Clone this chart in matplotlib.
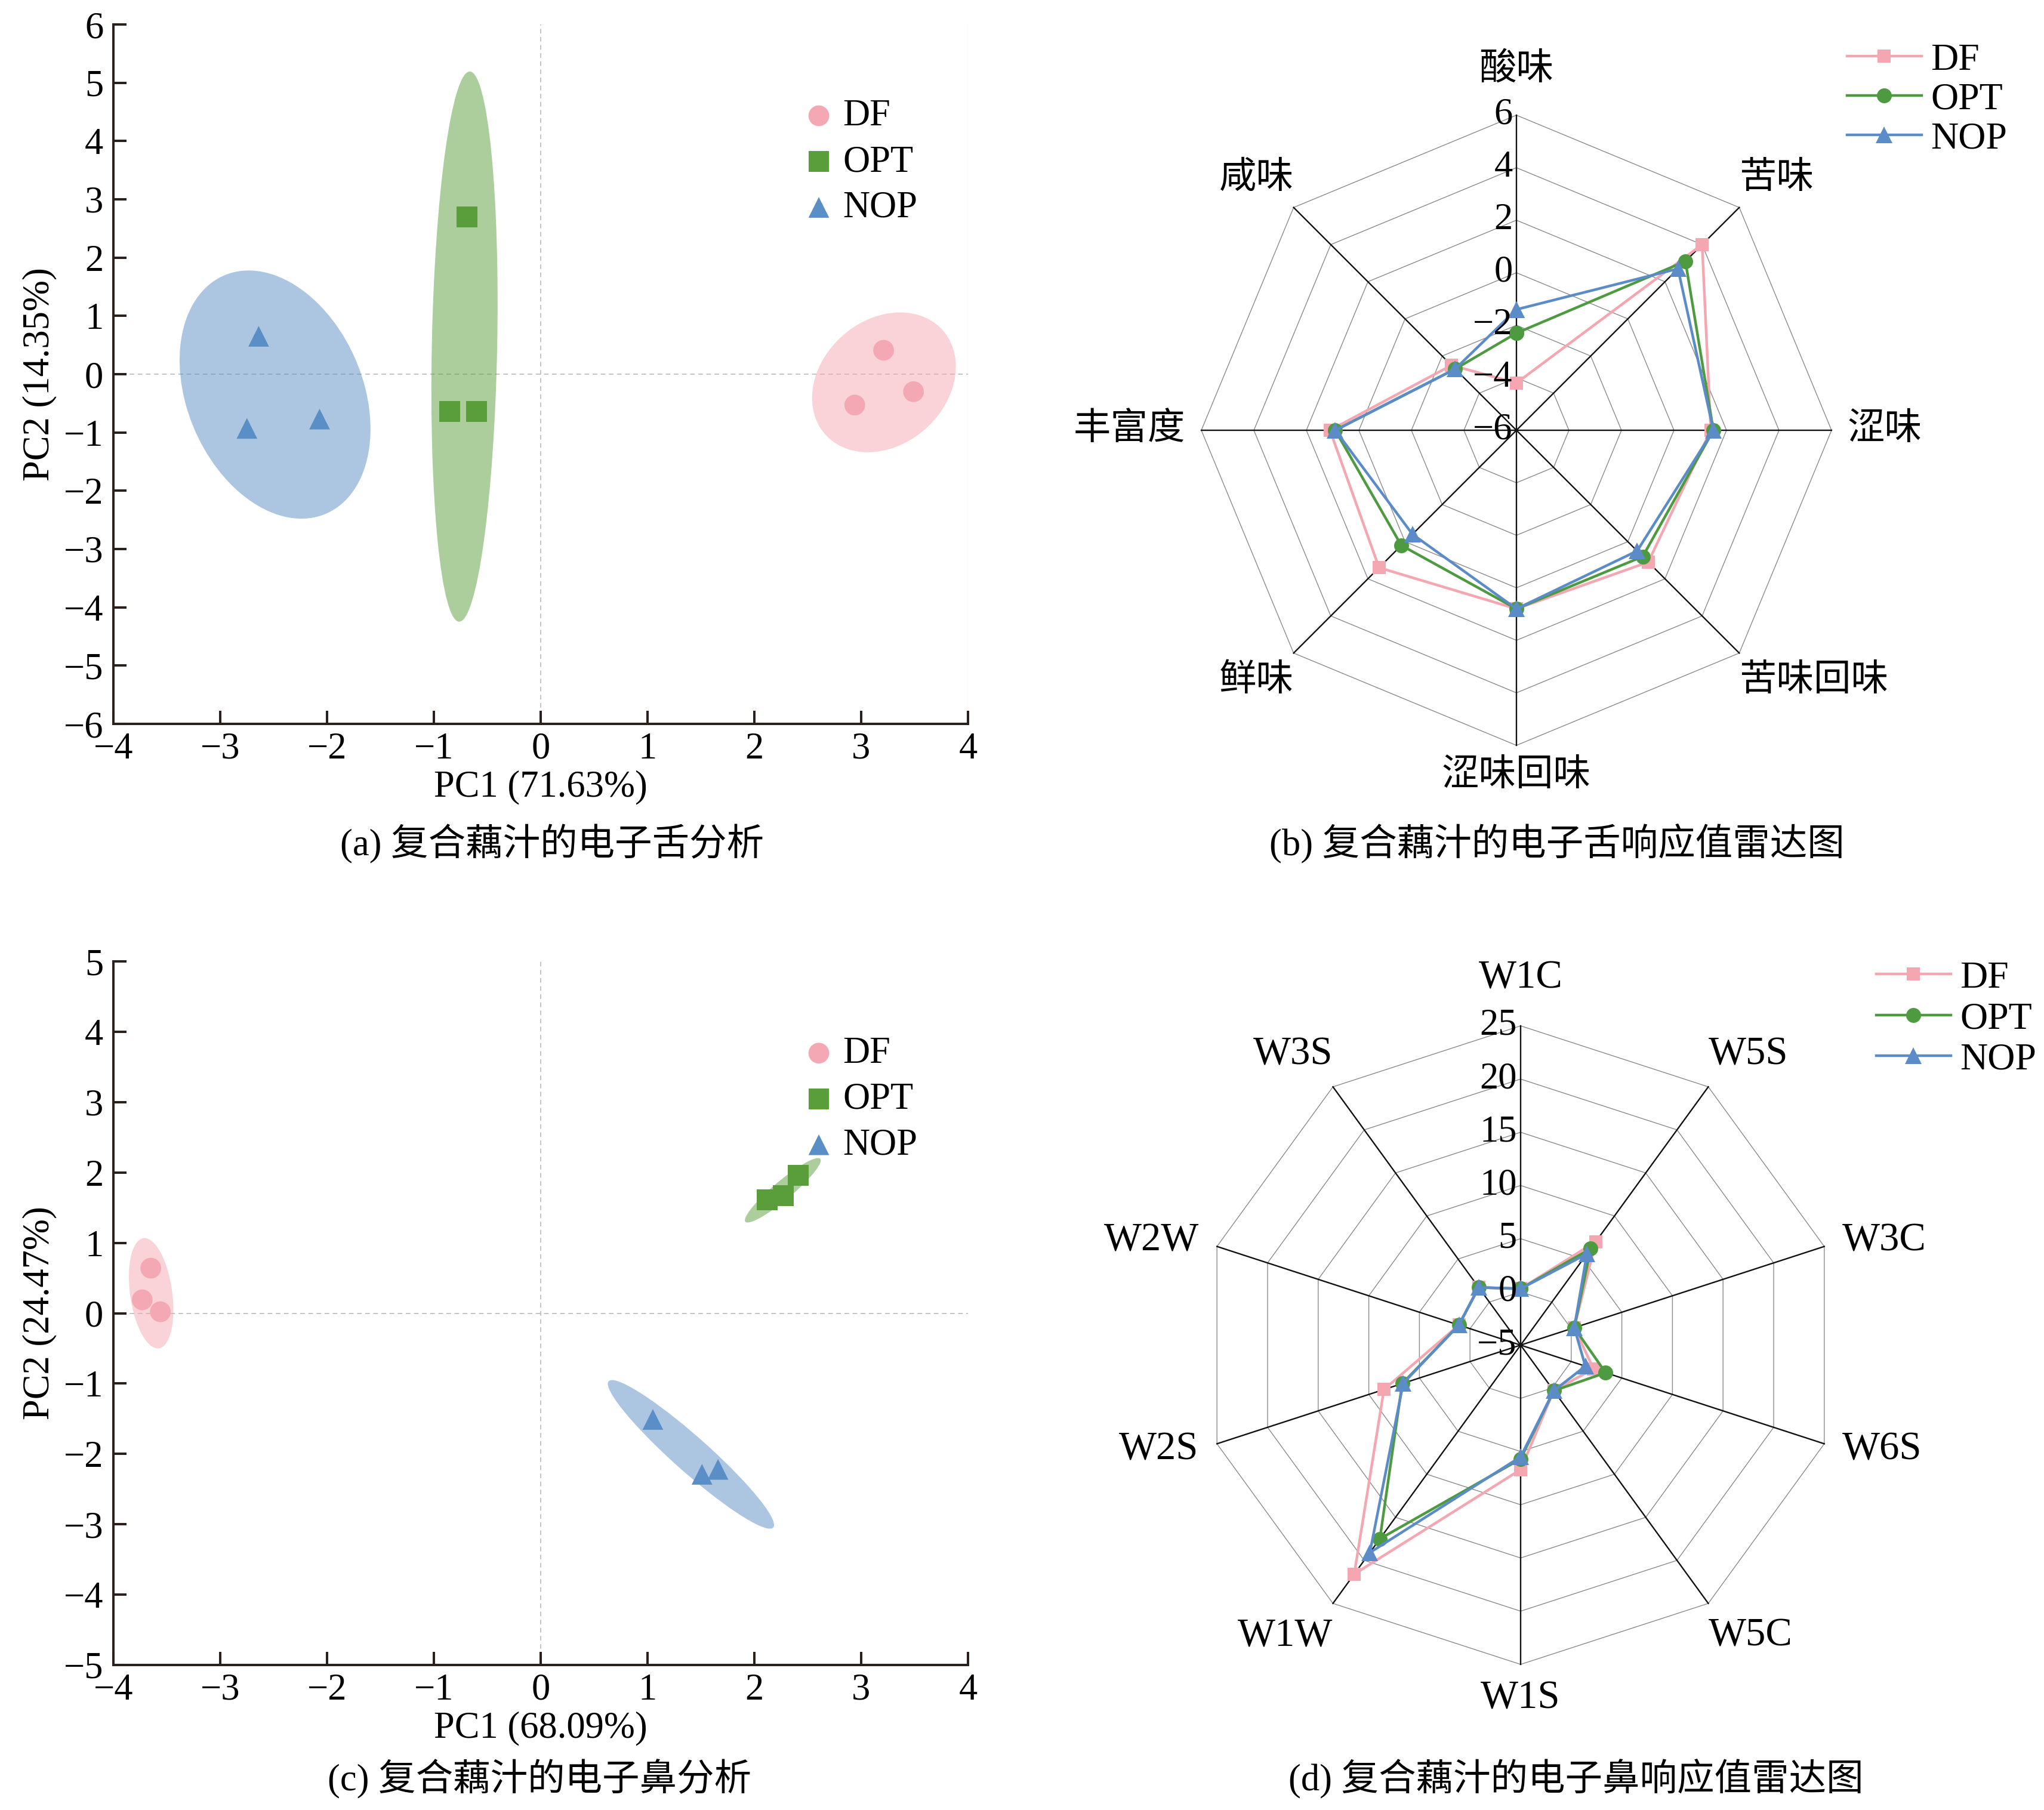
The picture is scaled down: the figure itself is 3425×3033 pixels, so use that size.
import numpy as np
import matplotlib
matplotlib.use('Agg')
import matplotlib.pyplot as plt
from matplotlib.patches import Ellipse

# --- Data ---
groups = ['DF', 'OPT', 'NOP']

# (a) e-tongue PCA scores
tongue_df_pc1 = [3.21, 2.94, 3.49]
tongue_df_pc2 = [0.41, -0.53, -0.30]
tongue_opt_pc1 = [-0.69, -0.85, -0.60]
tongue_opt_pc2 = [2.70, -0.64, -0.64]
tongue_nop_pc1 = [-2.64, -2.75, -2.07]
tongue_nop_pc2 = [0.65, -0.93, -0.77]

# (c) e-nose PCA scores
nose_df_pc1 = [-3.65, -3.73, -3.56]
nose_df_pc2 = [0.64, 0.19, 0.02]
nose_opt_pc1 = [2.12, 2.27, 2.41]
nose_opt_pc2 = [1.61, 1.67, 1.96]
nose_nop_pc1 = [1.05, 1.51, 1.66]
nose_nop_pc2 = [-1.51, -2.29, -2.22]

# (b) e-tongue radar
taste_labels = ['酸味', '苦味', '涩味', '苦味回味', '涩味回味', '鲜味', '丰富度', '咸味']
taste_df = [-4.2, 4.0, 1.4, 1.1, 0.8, 1.4, 1.1, -2.5]
taste_opt = [-2.3, 3.1, 1.5, 0.8, 0.8, 0.2, 0.9, -2.7]
taste_nop = [-1.4, 2.7, 1.5, 0.5, 0.8, -0.4, 0.9, -2.7]

# (d) e-nose radar
sensor_labels = ['W1C', 'W5S', 'W3C', 'W6S', 'W5C', 'W1S', 'W1W', 'W2S', 'W2W', 'W3S']
sensor_df = [0.3, 7.0, 0.3, 2.2, 0.3, 6.7, 21.6, 8.5, 1.1, 1.7]
sensor_opt = [0.3, 6.2, 0.3, 3.4, 0.3, 5.7, 17.5, 6.7, 1.1, 1.7]
sensor_nop = [0.3, 5.6, 0.3, 1.4, 0.3, 5.5, 19.1, 6.6, 1.1, 1.7]

# --- Styles ---
pt_colors = {'DF': '#F4A8B3', 'OPT': '#5A9E3C', 'NOP': '#5A8EC6'}
line_colors = {'DF': '#F4A6B1', 'OPT': '#4E9A41', 'NOP': '#5B8CC8'}
pt_markers = {'DF': 'o', 'OPT': 's', 'NOP': '^'}
radar_markers = {'DF': ('s', 8), 'OPT': ('o', 9), 'NOP': ('^', 10)}
spine_col = '#2A211C'

plt.rcParams['font.family'] = ['Liberation Serif', 'Noto Sans CJK SC']
plt.rcParams['axes.unicode_minus'] = True

W, H, DPI = 3425, 3033, 200
fig = plt.figure(figsize=(W / DPI, H / DPI), dpi=DPI)


def px_axes(x0, y0, x1, y1):
    return fig.add_axes([x0 / W, 1 - y1 / H, (x1 - x0) / W, (y1 - y0) / H])


def conf_ellipse(ax, xs, ys, color, n_std=np.sqrt(5.991)):
    # 95% confidence ellipse from the sample covariance
    xs, ys = np.asarray(xs), np.asarray(ys)
    cov = np.cov(xs, ys)
    vals, vecs = np.linalg.eigh(cov)
    order = vals.argsort()[::-1]
    vals, vecs = vals[order], vecs[:, order]
    angle = np.degrees(np.arctan2(vecs[1, 0], vecs[0, 0]))
    w, h = 2 * n_std * np.sqrt(vals)
    e = Ellipse((xs.mean(), ys.mean()), w, h, angle=angle, facecolor=color,
                alpha=0.5, edgecolor='none', zorder=1)
    ax.add_patch(e)


def pca_panel(ax, data, ylim, xlabel, ylabel):
    ax.axhline(0, color='#c4c4c4', lw=0.7, ls=(0, (4, 3)), zorder=0)
    ax.axvline(0, color='#c4c4c4', lw=0.7, ls=(0, (4, 3)), zorder=0)
    for g in groups:
        xs, ys = data[g]
        conf_ellipse(ax, xs, ys, pt_colors[g])
        ax.scatter(xs, ys, s=12.5 ** 2, marker=pt_markers[g], color=pt_colors[g],
                   edgecolors='none', zorder=3, label=g)
    ax.set_xlim(-4, 4)
    ax.set_ylim(*ylim)
    ax.set_xticks(np.arange(-4, 5, 1))
    ax.set_yticks(np.arange(ylim[0], ylim[1] + 1, 1))
    for s in ['top', 'right']:
        ax.spines[s].set_visible(False)
    for s in ['left', 'bottom']:
        ax.spines[s].set_linewidth(1.45)
        ax.spines[s].set_color(spine_col)
    ax.tick_params(direction='in', length=7.9, width=1.45, color=spine_col,
                   labelsize=22.5, pad=6)
    ax.tick_params(axis='x', pad=5)
    ax.set_xlabel(xlabel, fontsize=22.5, labelpad=2)
    ax.set_ylabel(ylabel, fontsize=22.5, labelpad=4)
    ax.legend(loc='upper left', bbox_to_anchor=(0.808, 0.893), frameon=False,
              fontsize=22.5, handlelength=0.8, handletextpad=0.25,
              labelspacing=0.30, borderpad=0, borderaxespad=0, scatterpoints=1)


def fmt(v):
    return ('%g' % v).replace('-', '\u2212')


def closed(a):
    return np.append(a, a[0])


def radar_panel(ax, labels, series, vmin, vmax, step, lab_size, gaps):
    # gaps: side (va center), diagonal (vertical shift), top, bottom
    g_side, g_diag, g_top, g_bot = gaps
    n = len(labels)
    ang = 2 * np.pi * np.arange(n) / n
    sx, cy = np.sin(ang), np.cos(ang)
    span = vmax - vmin
    # ring grid
    for v in np.arange(vmin + step, vmax + step / 2, step):
        r = (v - vmin) / span
        ax.plot(closed(r * sx), closed(r * cy), color='#8a8a8a', lw=0.5, zorder=1)
    # spokes
    for i in range(n):
        ax.plot([0, sx[i]], [0, cy[i]], color='#111111', lw=0.85, zorder=2)
    # radial tick labels
    for v in np.arange(vmin, vmax + step / 2, step):
        r = (v - vmin) / span
        ax.text(-0.012, r, fmt(v), ha='right', va='center', fontsize=22.5, zorder=6)
    # series
    for g, vals in series:
        r = (np.asarray(vals) - vmin) / span
        m, ms = radar_markers[g]
        ax.plot(closed(r * sx), closed(r * cy), color=line_colors[g], lw=1.6,
                marker=m, markersize=ms, markeredgewidth=0, zorder=4, label=g)
    # axis labels
    for i, lab in enumerate(labels):
        ha = 'left' if sx[i] > 0.1 else ('right' if sx[i] < -0.1 else 'center')
        va = 'bottom' if cy[i] > 0.35 else ('top' if cy[i] < -0.35 else 'center')
        if ha == 'center':
            x, y = 0, (1 + g_top) if cy[i] > 0 else -(1 + g_bot)
        elif va == 'center':
            x, y = sx[i] * (1 + g_side), cy[i] * (1 + g_side)
        else:
            x, y = sx[i], cy[i] + np.sign(cy[i]) * g_diag
        ax.text(x, y, lab, ha=ha, va=va, fontsize=lab_size, clip_on=False)
    ax.set_aspect('equal')
    ax.axis('off')


def radar_axes(cx, cy, R, half=760):
    ax = px_axes(cx - half, cy - half, cx + half, cy + half)
    lim = half / R
    ax.set_xlim(-lim, lim)
    ax.set_ylim(-lim, lim)
    return ax


# (a)
ax_a = px_axes(190, 41, 1622, 1213)
pca_panel(ax_a, {'DF': (tongue_df_pc1, tongue_df_pc2),
                 'OPT': (tongue_opt_pc1, tongue_opt_pc2),
                 'NOP': (tongue_nop_pc1, tongue_nop_pc2)},
          (-6, 6), 'PC1 (71.63%)', 'PC2 (14.35%)')
ax_a.axvline(4, color='#ececec', lw=0.5, zorder=0)

# (c)
ax_c = px_axes(190, 1611, 1622, 2790)
pca_panel(ax_c, {'DF': (nose_df_pc1, nose_df_pc2),
                 'OPT': (nose_opt_pc1, nose_opt_pc2),
                 'NOP': (nose_nop_pc1, nose_nop_pc2)},
          (-5, 5), 'PC1 (68.09%)', 'PC2 (24.47%)')

# (b)
ax_b = radar_axes(2541, 721, 528)
radar_panel(ax_b, taste_labels,
            [('DF', taste_df), ('OPT', taste_opt), ('NOP', taste_nop)],
            -6, 6, 2, 22.5, (0.05, 0.035, 0.087, 0.043))
ax_b.legend(loc='upper left', bbox_to_anchor=(3095 / W, 1 - 72 / H),
            bbox_transform=fig.transFigure, frameon=False, fontsize=23,
            handlelength=1.95, handletextpad=0.25, labelspacing=0.11,
            borderpad=0, borderaxespad=0)

# (d)
ax_d = radar_axes(2548, 2254, 535)
radar_panel(ax_d, sensor_labels,
            [('DF', sensor_df), ('OPT', sensor_opt), ('NOP', sensor_nop)],
            -5, 25, 5, 24, (0.06, 0.045, 0.093, 0.05))
ax_d.legend(loc='upper left', bbox_to_anchor=(3144 / W, 1 - 1610 / H),
            bbox_transform=fig.transFigure, frameon=False, fontsize=23,
            handlelength=1.95, handletextpad=0.25, labelspacing=0.15,
            borderpad=0, borderaxespad=0)

# captions
captions = [(925, 1414, '(a) 复合藕汁的电子舌分析'),
            (2609, 1413, '(b) 复合藕汁的电子舌响应值雷达图'),
            (904, 2981, '(c) 复合藕汁的电子鼻分析'),
            (2641, 2980, '(d) 复合藕汁的电子鼻响应值雷达图')]
for x, y, t in captions:
    fig.text(x / W, 1 - y / H, t, ha='center', va='center', fontsize=22.5)

fig.savefig('out.png', dpi=DPI)
